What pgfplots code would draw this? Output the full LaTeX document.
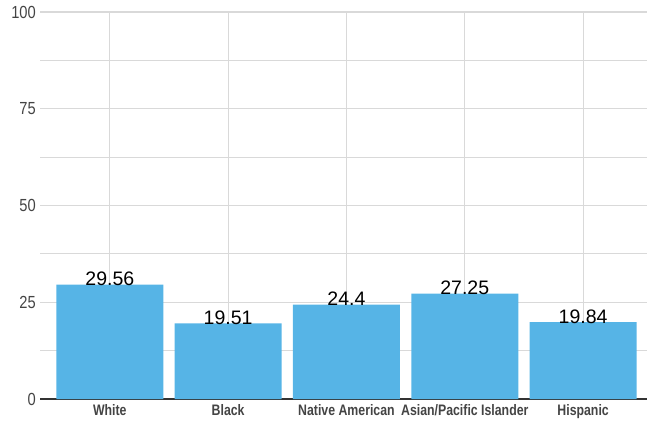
\documentclass[border=0pt]{standalone}
\usepackage{pgfplots}
\pgfplotsset{compat=1.18}
\usepackage{fontspec}
\setmainfont{Liberation Sans}
\newfontfamily\condfont[FakeStretch=0.84]{Liberation Sans}
\newfontfamily\catfont[FakeStretch=0.81]{Liberation Sans}
\definecolor{barblue}{HTML}{56B4E6}
\definecolor{gridgray}{HTML}{D9D9D9}
\definecolor{labgray}{HTML}{444444}
\begin{document}
\begin{tikzpicture}
\path[use as bounding box] (0,0) rectangle (647bp,421bp);
\begin{axis}[
  at={(40bp,22bp)}, anchor=south west,
  scale only axis, width=607bp, height=387bp,
  xmin=-0.59, xmax=4.54, ymin=0, ymax=100,
  ytick={0,25,50,75,100},
  minor ytick={12.5,37.5,62.5,87.5},
  xtick={0,1,2,3,4},
  xticklabels={White,Black,Native American,Asian/Pacific Islander,Hispanic},
  ymajorgrids, yminorgrids, xmajorgrids,
  grid style={draw=gridgray, line width=1.2bp},
  minor grid style={draw=gridgray, line width=1.2bp},
  major tick length=0pt, minor tick length=0pt,
  axis x line*=bottom, axis y line*=left,
  x axis line style={draw=black!80, line width=1.8bp, -},
  y axis line style={draw=none},
  /pgf/number format/assume math mode=true,
  yticklabel style={font=\condfont\fontsize{17.5bp}{19bp}\selectfont, text=labgray, inner sep=0pt, anchor=east, xshift=-4bp},
  xticklabel style={font=\catfont\bfseries\fontsize{15.2bp}{17bp}\selectfont, text=labgray, inner sep=0pt, anchor=north, yshift=-5bp},
  ybar, bar width=107bp, bar shift=0pt,
  point meta=explicit symbolic,
  nodes near coords,
  every node near coord/.append style={font=\fontsize{19.5bp}{21bp}\selectfont, text=black, anchor=base, inner sep=0pt, yshift=-1bp},
  clip=false,
]
\addplot[fill=barblue, draw=none] coordinates {
  (0,29.56) [29.56]
  (1,19.51) [19.51]
  (2,24.4)  [24.4]
  (3,27.25) [27.25]
  (4,19.84) [19.84]
};
\end{axis}
\end{tikzpicture}
\end{document}
